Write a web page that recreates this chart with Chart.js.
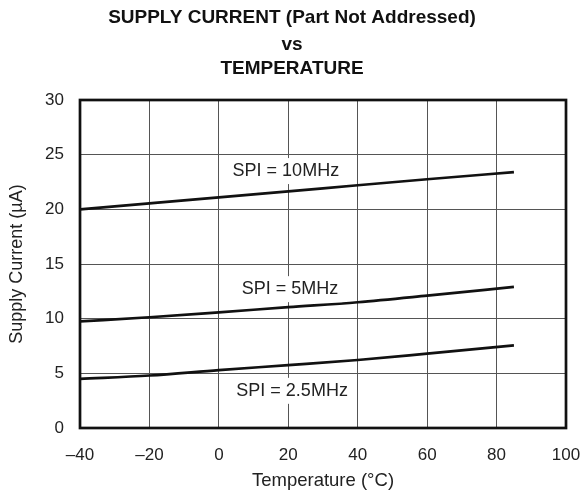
<!DOCTYPE html>
<html>
<head>
<meta charset="utf-8">
<script src="https://cdn.jsdelivr.net/npm/chart.js@4"></script>
<style>
  html, body { margin: 0; padding: 0; background: #fff; }
  #wrap { width: 583px; height: 495px; }
</style>
</head>
<body>
<div id="wrap"><canvas id="chart" width="583" height="495"></canvas></div>
<script>
// temperature points (°C) where the curves were read
const temps = [-40, -20, 0, 20, 40, 60, 85];

// supply current (uA) per SPI clock
const spi10 = [20.0, 20.55, 21.1, 21.65, 22.2, 22.75, 23.4];
const spi5 = [9.75, 10.13, 10.58, 11.05, 11.5, 12.1, 12.9];
const spi25 = [4.5, 4.8, 5.3, 5.75, 6.22, 6.8, 7.55];

const seriesNames = ['SPI = 10MHz', 'SPI = 5MHz', 'SPI = 2.5MHz'];
// where each curve label sits, in data units [temp, current]
const labelAt = [[19.3, 23.5], [20.5, 12.7], [21.1, 3.4]];

const titleLines = ['SUPPLY CURRENT (Part Not Addressed)', 'vs', 'TEMPERATURE'];

const FONT = '"Liberation Sans", Arial, Helvetica, sans-serif';

function toPoints(vals) {
    return temps.map((t, i) => ({ x: t, y: vals[i] }));
}

function lineSet(label, vals) {
    return {
        label: label,
        data: toPoints(vals),
        borderColor: '#111',
        borderWidth: 2.7,
        pointRadius: 0,
        cubicInterpolationMode: 'monotone',
        fill: false
    };
}

// heading, plot frame and curve labels
const extras = {
    id: 'extras',
    afterDraw(chart) {
        const ctx = chart.ctx;
        const a = chart.chartArea;
        const xs = chart.scales.x, ys = chart.scales.y;

        ctx.save();
        ctx.fillStyle = '#111';
        ctx.font = 'bold 19px ' + FONT;
        ctx.textAlign = 'center';
        ctx.textBaseline = 'alphabetic';
        const ty = [23, 50, 74];
        titleLines.forEach((t, i) => ctx.fillText(t, 292, ty[i]));

        ctx.lineWidth = 2.7;
        ctx.strokeStyle = '#111';
        ctx.strokeRect(a.left, a.top, a.right - a.left, a.bottom - a.top);

        ctx.font = '18px ' + FONT;
        ctx.textBaseline = 'middle';
        seriesNames.forEach((name, i) => {
            const px = xs.getPixelForValue(labelAt[i][0]);
            const py = ys.getPixelForValue(labelAt[i][1]);
            const w = ctx.measureText(name).width + 8;
            ctx.fillStyle = '#fff';
            ctx.fillRect(px - w / 2, py - 13, w, 26);
            ctx.fillStyle = '#222';
            ctx.fillText(name, px, py);
        });
        ctx.restore();
    }
};

new Chart(document.getElementById('chart'), {
    type: 'line',
    data: {
        datasets: [
            lineSet(seriesNames[0], spi10),
            lineSet(seriesNames[1], spi5),
            lineSet(seriesNames[2], spi25)
        ]
    },
    plugins: [extras],
    options: {
        responsive: false,
        animation: false,
        layout: { padding: { top: 100, right: 0, left: 0, bottom: 0 } },
        plugins: {
            legend: { display: false },
            title: { display: false },
            tooltip: { enabled: false }
        },
        scales: {
            x: {
                type: 'linear',
                min: -40,
                max: 100,
                afterFit: s => {
                    s.height = 67;
                    s.paddingLeft = 0;
                    s.paddingRight = 17;
                },
                grid: { color: '#555', lineWidth: 1, drawTicks: false },
                border: { display: false },
                ticks: {
                    stepSize: 20,
                    padding: 17,
                    color: '#222',
                    font: { family: FONT, size: 17 },
                    callback: v => (v < 0 ? '\u2013' + Math.abs(v) : String(v))
                },
                title: {
                    display: true,
                    text: 'Temperature (\u00B0C)',
                    color: '#222',
                    font: { family: FONT, size: 18.5 },
                    padding: { top: 0, bottom: 3 }
                }
            },
            y: {
                min: 0,
                max: 30,
                afterFit: s => { s.width = 80; },
                grid: { color: '#555', lineWidth: 1, drawTicks: false },
                border: { display: false },
                ticks: {
                    stepSize: 5,
                    padding: 16,
                    color: '#222',
                    font: { family: FONT, size: 17 }
                },
                title: {
                    display: true,
                    text: 'Supply Current (\u00B5A)',
                    color: '#222',
                    font: { family: FONT, size: 18 },
                    padding: { top: 6, bottom: 0 }
                }
            }
        }
    }
});
</script>
</body>
</html>
